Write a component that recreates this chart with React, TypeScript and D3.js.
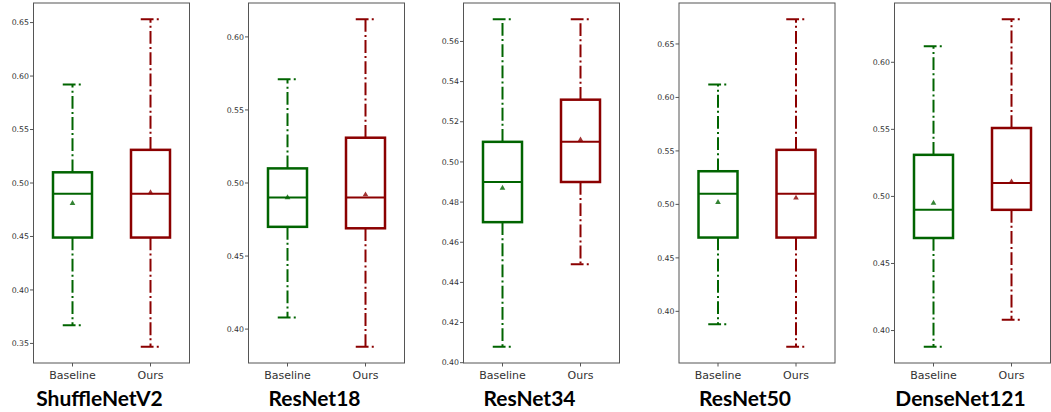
import React from "react";
import * as d3 from "d3";

const models = ["ShuffleNetV2", "ResNet18", "ResNet34", "ResNet50", "DenseNet121"];
const groups = ["Baseline", "Ours"];
// [low whisker, Q1, median, Q3, high whisker, mean]
const baselineStats = [
  [0.367, 0.449, 0.49, 0.51, 0.592, 0.481],
  [0.408, 0.47, 0.49, 0.51, 0.571, 0.49],
  [0.408, 0.47, 0.49, 0.51, 0.571, 0.487],
  [0.388, 0.469, 0.51, 0.531, 0.612, 0.502],
  [0.388, 0.469, 0.49, 0.531, 0.612, 0.495],
];
const oursStats = [
  [0.347, 0.449, 0.49, 0.531, 0.653, 0.491],
  [0.388, 0.469, 0.49, 0.531, 0.612, 0.492],
  [0.449, 0.49, 0.51, 0.531, 0.571, 0.511],
  [0.367, 0.469, 0.51, 0.551, 0.673, 0.506],
  [0.408, 0.49, 0.51, 0.551, 0.632, 0.511],
];
const yTicks = [
  [0.35, 0.4, 0.45, 0.5, 0.55, 0.6, 0.65],
  [0.4, 0.45, 0.5, 0.55, 0.6],
  [0.4, 0.42, 0.44, 0.46, 0.48, 0.5, 0.52, 0.54, 0.56],
  [0.4, 0.45, 0.5, 0.55, 0.6, 0.65],
  [0.4, 0.45, 0.5, 0.55, 0.6],
];
const colors = ["#006400", "#8b0000"];

const W = 1051;
const H = 412;
const lefts = [33.5, 248.5, 463.5, 679, 894.5];
const axW = 156;
const top = 3;
const bottom = 363;
const dash = "12.8,3.2,2,3.2";

function Panel({ i }: { i: number }) {
  const stats = [baselineStats[i], oursStats[i]];
  const all = stats.flatMap((s) => [s[0], s[4]]);
  const lo = d3.min(all)!;
  const hi = d3.max(all)!;
  const m = (hi - lo) * 0.05;
  const y = d3.scaleLinear().domain([lo - m, hi + m]).range([bottom, top]);
  const x0 = lefts[i];
  const x = d3.scaleLinear().domain([0.5, 2.5]).range([x0, x0 + axW]);
  const fmt = d3.format(".2f");
  const tri = d3.symbol().type(d3.symbolTriangle).size(14)()!;
  return (
    <g>
      <rect x={x0} y={top} width={axW} height={bottom - top} fill="white" stroke="#555" strokeWidth={1} />
      {yTicks[i].map((t) => (
        <g key={t} transform={`translate(0,${y(t)})`}>
          <line x1={x0 - 3.5} x2={x0} stroke="#555" />
          <text x={x0 - 4.5} dy="0.35em" textAnchor="end" fontSize={7.8} fill="#333" fontFamily="DejaVu Sans">
            {fmt(t)}
          </text>
        </g>
      ))}
      {stats.map((s, k) => {
        const cx = x(k + 1);
        const bw = 0.5 * (x(1) - x(0));
        const cw = 0.25 * (x(1) - x(0));
        const c = colors[k];
        return (
          <g key={k}>
            <line x1={cx} x2={cx} y1={bottom} y2={bottom + 3.5} stroke="#555" />
            <text x={cx} y={379.3} textAnchor="middle" fontSize={11} fill="#333" fontFamily="DejaVu Sans">
              {groups[k]}
            </text>
            <line x1={cx} x2={cx} y1={y(s[3])} y2={y(s[4])} stroke={c} strokeWidth={2} strokeDasharray={dash} />
            <line x1={cx} x2={cx} y1={y(s[1])} y2={y(s[0])} stroke={c} strokeWidth={2} strokeDasharray={dash} />
            <line x1={cx - cw / 2} x2={cx + cw / 2} y1={y(s[4])} y2={y(s[4])} stroke={c} strokeWidth={2} strokeDasharray={dash} />
            <line x1={cx - cw / 2} x2={cx + cw / 2} y1={y(s[0])} y2={y(s[0])} stroke={c} strokeWidth={2} strokeDasharray={dash} />
            <rect x={cx - bw / 2} y={y(s[3])} width={bw} height={y(s[1]) - y(s[3])} fill="white" stroke={c} strokeWidth={2.5} />
            <line x1={cx - bw / 2} x2={cx + bw / 2} y1={y(s[2])} y2={y(s[2])} stroke={c} strokeWidth={2} />
            <path d={tri} transform={`translate(${cx},${y(s[5])})`} fill={c} opacity={0.8} />
          </g>
        );
      })}
      <text x={x0 + axW / 2 - 12} y={406} textAnchor="middle" fontSize={21} fontWeight="bold" fontFamily="Lato" fill="#000">
        {models[i]}
      </text>
    </g>
  );
}

export default function App() {
  return (
    <svg width={W} height={H} style={{ position: "absolute", left: 0, top: 0, background: "white" }}>
      <rect width={W} height={H} fill="white" />
      {models.map((_, i) => (
        <Panel key={i} i={i} />
      ))}
    </svg>
  );
}
